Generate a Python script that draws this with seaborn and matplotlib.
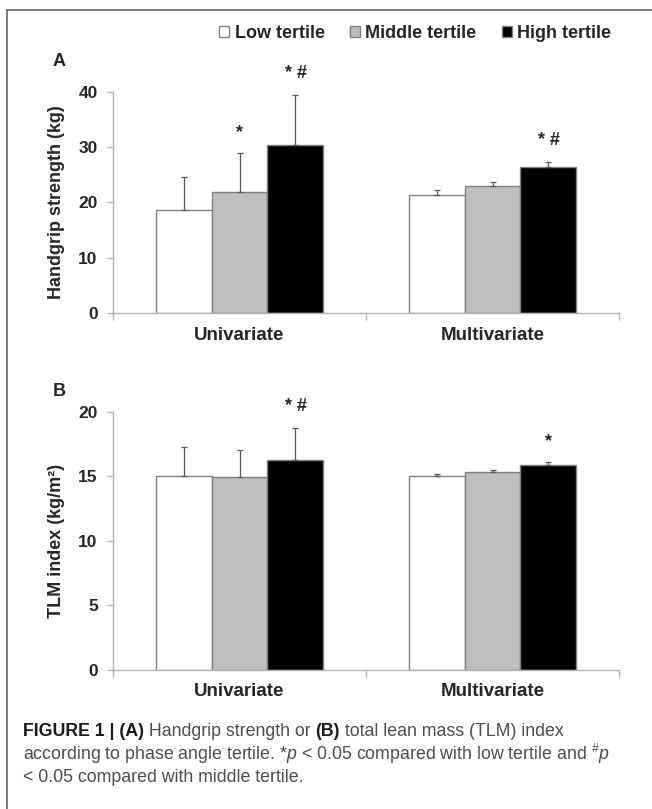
import numpy as np
import pandas as pd
import matplotlib
matplotlib.use("Agg")
import matplotlib.pyplot as plt
from matplotlib.lines import Line2D
import seaborn as sns

# ===== Data =====
models = ["Univariate", "Multivariate"]
tertiles = ["Low tertile", "Middle tertile", "High tertile"]

# Handgrip strength (kg): mean and SD per tertile, [Univariate, Multivariate]
hgs_low = [18.7, 21.4]
hgs_mid = [21.9, 22.9]
hgs_high = [30.4, 26.4]
hgs_sd_low = [5.9, 0.9]
hgs_sd_mid = [7.0, 0.8]
hgs_sd_high = [9.1, 1.0]
hgs_sig_low = ["", ""]
hgs_sig_mid = ["*", ""]
hgs_sig_high = ["* #", "* #"]

# TLM index (kg/m2)
tlm_low = [15.05, 15.0]
tlm_mid = [14.95, 15.35]
tlm_high = [16.25, 15.83]
tlm_sd_low = [2.2, 0.15]
tlm_sd_mid = [2.1, 0.1]
tlm_sd_high = [2.5, 0.25]
tlm_sig_low = ["", ""]
tlm_sig_mid = ["", ""]
tlm_sig_high = ["* #", "*"]

bar_colors = ["#ffffff", "#bfbfbf", "#000000"]
AXIS_GRAY = "#b3b3b3"


def make_df(low, mid, high):
    rows = []
    for t, vals in zip(tertiles, [low, mid, high]):
        for m, v in zip(models, vals):
            rows.append({"model": m, "tertile": t, "value": v})
    return pd.DataFrame(rows)


def draw_panel(ax, df, sds, sigs, ymax, step, ylabel):
    sns.barplot(data=df, x="model", y="value", hue="tertile", order=models,
                hue_order=tertiles, palette=bar_colors, width=0.664,
                edgecolor="#808080", linewidth=1, errorbar=None, ax=ax)
    bar_conts = list(ax.containers)[:3]
    for cont, sd, sig in zip(bar_conts, sds, sigs):
        xs = [p.get_x() + p.get_width() / 2 for p in cont]
        hs = [p.get_height() for p in cont]
        ax.errorbar(xs, hs, yerr=[np.zeros(len(sd)), sd], fmt="none",
                    ecolor="#595959", elinewidth=0.9, capsize=2.5,
                    capthick=0.9, zorder=5)
        for x, h, s, mk in zip(xs, hs, sd, sig):
            if mk:
                ax.annotate(mk, xy=(x, h + s), xytext=(0, 21),
                            textcoords="offset pixels", ha="center",
                            va="center", fontsize=13, fontweight="bold")

    ax.set_xlim(-0.5, 1.5)
    ax.set_ylim(0, ymax)
    ax.set_yticks(np.arange(0, ymax + 1, step))
    ax.set_xticks([-0.5, 0.5, 1.5], minor=True)
    ax.tick_params(axis="y", left=True, length=4, width=1, color=AXIS_GRAY,
                   pad=7, labelsize=12.5)
    ax.tick_params(axis="x", which="major", length=0, pad=10, labelsize=13.5)
    ax.tick_params(axis="x", which="minor", bottom=True, length=5, width=1,
                   color=AXIS_GRAY)
    for lab in ax.get_xticklabels() + ax.get_yticklabels():
        lab.set_fontweight("bold")
    sns.despine(ax=ax)
    for side in ["left", "bottom"]:
        ax.spines[side].set_color(AXIS_GRAY)
        ax.spines[side].set_linewidth(1)
    ax.set_xlabel("")
    ax.set_ylabel(ylabel, fontsize=13, fontweight="bold")
    ax.yaxis.set_label_coords(-0.095, 0.5)


sns.set_theme(style="white")
plt.rcParams["font.family"] = ["Liberation Sans", "DejaVu Sans"]
plt.rcParams["mathtext.fontset"] = "custom"
plt.rcParams["mathtext.rm"] = "Liberation Sans"
plt.rcParams["mathtext.it"] = "Liberation Sans:italic"
plt.rcParams["mathtext.bf"] = "Liberation Sans:bold"

W, H = 652, 809
fig = plt.figure(figsize=(W / 100, H / 100), dpi=100)

# axes boxes in pixels: left 113, right 619
ax_a = fig.add_axes([113 / W, 1 - 313 / H, 506 / W, (313 - 92) / H])
ax_b = fig.add_axes([113 / W, 1 - 669.5 / H, 506 / W, (669.5 - 411.7) / H])

draw_panel(ax_a, make_df(hgs_low, hgs_mid, hgs_high),
           [hgs_sd_low, hgs_sd_mid, hgs_sd_high],
           [hgs_sig_low, hgs_sig_mid, hgs_sig_high], 40, 10,
           "Handgrip strength (kg)")
handles, labels = ax_a.get_legend_handles_labels()
ax_a.get_legend().remove()

draw_panel(ax_b, make_df(tlm_low, tlm_mid, tlm_high),
           [tlm_sd_low, tlm_sd_mid, tlm_sd_high],
           [tlm_sig_low, tlm_sig_mid, tlm_sig_high], 20, 5,
           "TLM index (kg/m²)")
ax_b.get_legend().remove()

fig.legend(handles, labels, loc="center", bbox_to_anchor=(0.637, 1 - 33 / H),
           ncol=3, frameon=False, handlelength=0.55, handleheight=0.55,
           handletextpad=0.3, columnspacing=1.4,
           prop={"weight": "bold", "size": 13})

fig.text(59 / W, 1 - 62 / H, "A", fontsize=13, fontweight="bold",
         ha="center", va="center")
fig.text(59 / W, 1 - 392 / H, "B", fontsize=13, fontweight="bold",
         ha="center", va="center")

# frame around figure (open at right / bottom like the crop)
fig.add_artist(Line2D([7 / W, 7 / W], [0, 1 - 10 / H], color="#707070", lw=1.3))
fig.add_artist(Line2D([7 / W, 1], [1 - 10 / H, 1 - 10 / H], color="#707070", lw=1.3))

# ===== Caption =====
cap_lines = [
    [("FIGURE 1 | (A)", "bold"), (" Handgrip strength or ", "normal"),
     ("(B)", "bold"), (" total lean mass (TLM) index", "normal")],
    [("according to phase angle tertile. *$p$ < 0.05 compared with low tertile and $^{\\#}p$", "normal")],
    [("< 0.05 compared with middle tertile.", "normal")],
]
cap_y = [731, 754, 777]

fig.canvas.draw()
renderer = fig.canvas.get_renderer()
for line, y in zip(cap_lines, cap_y):
    x = 23 / W
    for txt, weight in line:
        color = "#1a1a1a" if weight == "bold" else "#4d4d4d"
        t = fig.text(x, 1 - y / H, txt, fontsize=12.8, fontweight=weight,
                     color=color, ha="left", va="center")
        bb = t.get_window_extent(renderer=renderer)
        x += bb.width / W

fig.savefig("out.png", dpi=100)
